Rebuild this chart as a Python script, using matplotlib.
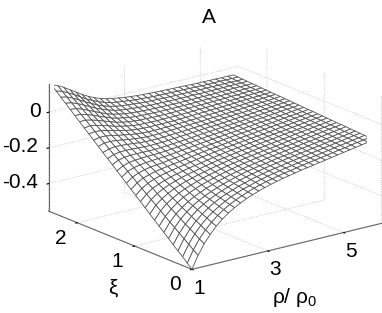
import numpy as np
import matplotlib
matplotlib.use('Agg')
from matplotlib import pyplot as plt

plt.rcParams['font.family'] = ['Liberation Sans', 'DejaVu Sans']
plt.rcParams['mathtext.fontset'] = 'custom'
plt.rcParams['mathtext.rm'] = 'Liberation Sans'
plt.rcParams['mathtext.default'] = 'regular'

rho = [1.0, 1.16, 1.32, 1.48, 1.64, 1.8, 1.96, 2.12, 2.28, 2.44, 2.6, 2.76, 2.92, 3.08, 3.24, 3.4,
       3.56, 3.72, 3.88, 4.04, 4.2, 4.36, 4.52, 4.68, 4.84, 5.0, 5.16, 5.32, 5.48, 5.64, 5.8]
xi = [0.0, 0.082, 0.163, 0.245, 0.327, 0.408, 0.49, 0.572, 0.653, 0.735, 0.817, 0.898, 0.98, 1.062, 1.143, 1.225,
      1.307, 1.388, 1.47, 1.552, 1.633, 1.715, 1.797, 1.878, 1.96, 2.042, 2.123, 2.205, 2.287, 2.368, 2.45]
# one row per rho
z = [
[-.554,-.530,-.506,-.483,-.459,-.435,-.411,-.387,-.364,-.340,-.316,-.292,-.268,-.245,-.221,-.197,-.173,-.149,-.126,-.102,-.078,-.054,-.030,-.007,.017,.041,.065,.089,.112,.136,.160],
[-.484,-.464,-.443,-.423,-.403,-.382,-.362,-.341,-.320,-.299,-.278,-.258,-.237,-.216,-.195,-.174,-.153,-.132,-.111,-.090,-.068,-.047,-.025,-.003,.018,.040,.061,.083,.105,.126,.148],
[-.428,-.411,-.394,-.376,-.360,-.342,-.324,-.307,-.288,-.271,-.253,-.234,-.217,-.198,-.180,-.161,-.142,-.124,-.105,-.086,-.067,-.047,-.028,-.009,.010,.030,.050,.070,.090,.109,.130],
[-.383,-.369,-.354,-.340,-.325,-.310,-.296,-.280,-.265,-.249,-.234,-.219,-.202,-.187,-.170,-.154,-.138,-.121,-.104,-.087,-.070,-.053,-.035,-.018,.000,.018,.035,.054,.072,.091,.109],
[-.345,-.334,-.321,-.309,-.296,-.284,-.272,-.258,-.246,-.232,-.219,-.206,-.191,-.178,-.163,-.149,-.135,-.120,-.105,-.090,-.075,-.060,-.044,-.028,-.012,.004,.020,.037,.053,.070,.087],
[-.314,-.304,-.294,-.284,-.273,-.263,-.252,-.241,-.230,-.218,-.207,-.195,-.183,-.171,-.159,-.146,-.133,-.121,-.107,-.093,-.081,-.066,-.052,-.039,-.024,-.009,.005,.020,.036,.050,.066],
[-.288,-.280,-.272,-.262,-.254,-.245,-.236,-.226,-.217,-.206,-.196,-.186,-.176,-.166,-.155,-.143,-.132,-.121,-.109,-.097,-.085,-.072,-.060,-.047,-.035,-.022,-.009,.006,.019,.033,.047],
[-.266,-.259,-.252,-.244,-.237,-.230,-.222,-.213,-.205,-.196,-.187,-.178,-.169,-.160,-.150,-.141,-.131,-.121,-.110,-.099,-.088,-.077,-.066,-.054,-.043,-.032,-.020,-.007,.005,.018,.031],
[-.248,-.242,-.235,-.229,-.223,-.216,-.209,-.202,-.194,-.186,-.179,-.170,-.163,-.155,-.146,-.137,-.128,-.119,-.109,-.100,-.091,-.080,-.070,-.060,-.049,-.038,-.027,-.017,-.005,.006,.018],
[-.232,-.227,-.221,-.216,-.210,-.204,-.197,-.191,-.184,-.178,-.171,-.164,-.156,-.149,-.141,-.133,-.125,-.117,-.108,-.100,-.091,-.082,-.072,-.063,-.053,-.044,-.034,-.024,-.013,-.003,.008],
[-.218,-.214,-.208,-.203,-.198,-.193,-.187,-.181,-.176,-.169,-.163,-.157,-.149,-.143,-.136,-.129,-.121,-.114,-.106,-.098,-.090,-.082,-.073,-.064,-.056,-.047,-.037,-.028,-.019,-.009,.001],
[-.206,-.201,-.198,-.193,-.188,-.183,-.178,-.173,-.167,-.161,-.156,-.150,-.143,-.137,-.131,-.124,-.117,-.111,-.103,-.096,-.088,-.081,-.073,-.065,-.056,-.049,-.040,-.031,-.022,-.013,-.004],
[-.195,-.191,-.187,-.182,-.178,-.174,-.170,-.165,-.159,-.154,-.149,-.144,-.138,-.132,-.126,-.120,-.114,-.108,-.100,-.094,-.087,-.080,-.073,-.065,-.058,-.050,-.042,-.034,-.025,-.017,-.009],
[-.185,-.181,-.178,-.174,-.170,-.165,-.162,-.157,-.152,-.147,-.143,-.138,-.132,-.127,-.122,-.116,-.110,-.105,-.098,-.092,-.085,-.079,-.072,-.065,-.058,-.051,-.044,-.036,-.028,-.021,-.013],
[-.176,-.173,-.169,-.166,-.162,-.158,-.154,-.150,-.146,-.141,-.137,-.132,-.127,-.123,-.117,-.112,-.107,-.101,-.095,-.090,-.083,-.077,-.072,-.064,-.058,-.052,-.044,-.038,-.031,-.023,-.016],
[-.168,-.165,-.162,-.158,-.155,-.151,-.148,-.144,-.140,-.136,-.131,-.127,-.122,-.118,-.113,-.108,-.103,-.098,-.092,-.087,-.081,-.076,-.070,-.064,-.058,-.051,-.045,-.038,-.032,-.025,-.018],
[-.161,-.158,-.155,-.152,-.148,-.146,-.142,-.138,-.134,-.131,-.126,-.122,-.118,-.114,-.109,-.105,-.100,-.095,-.089,-.085,-.079,-.074,-.069,-.063,-.057,-.052,-.045,-.039,-.032,-.027,-.020],
[-.154,-.152,-.148,-.146,-.142,-.139,-.136,-.132,-.129,-.125,-.122,-.118,-.113,-.110,-.105,-.101,-.097,-.092,-.087,-.082,-.078,-.073,-.067,-.062,-.056,-.051,-.046,-.040,-.034,-.028,-.022],
[-.147,-.145,-.142,-.139,-.136,-.133,-.130,-.127,-.123,-.120,-.117,-.113,-.109,-.105,-.101,-.097,-.093,-.089,-.085,-.080,-.075,-.070,-.065,-.061,-.056,-.051,-.046,-.040,-.034,-.029,-.023],
[-.141,-.138,-.136,-.133,-.130,-.128,-.125,-.122,-.119,-.115,-.112,-.108,-.105,-.101,-.097,-.094,-.090,-.086,-.082,-.077,-.073,-.068,-.064,-.059,-.054,-.050,-.045,-.040,-.035,-.029,-.024],
[-.135,-.132,-.130,-.128,-.125,-.123,-.119,-.116,-.114,-.110,-.107,-.104,-.101,-.097,-.094,-.090,-.086,-.083,-.079,-.074,-.071,-.066,-.062,-.058,-.053,-.049,-.045,-.040,-.034,-.030,-.025],
[-.129,-.127,-.124,-.122,-.119,-.117,-.114,-.111,-.109,-.106,-.103,-.099,-.097,-.093,-.090,-.087,-.083,-.080,-.076,-.072,-.068,-.065,-.061,-.056,-.053,-.048,-.044,-.039,-.035,-.030,-.026],
[-.123,-.121,-.119,-.116,-.114,-.111,-.109,-.107,-.103,-.101,-.098,-.095,-.093,-.089,-.086,-.083,-.080,-.077,-.073,-.069,-.066,-.063,-.059,-.055,-.051,-.047,-.044,-.040,-.035,-.031,-.027],
[-.117,-.115,-.113,-.111,-.108,-.106,-.103,-.101,-.098,-.096,-.093,-.091,-.088,-.085,-.082,-.079,-.076,-.073,-.071,-.068,-.064,-.061,-.057,-.054,-.050,-.047,-.043,-.040,-.036,-.032,-.028],
[-.111,-.109,-.107,-.105,-.103,-.100,-.099,-.096,-.094,-.091,-.089,-.087,-.084,-.081,-.079,-.076,-.073,-.071,-.068,-.065,-.061,-.059,-.056,-.052,-.049,-.046,-.043,-.039,-.035,-.033,-.029],
[-.105,-.103,-.101,-.099,-.097,-.095,-.093,-.091,-.089,-.086,-.084,-.082,-.080,-.077,-.075,-.072,-.069,-.067,-.064,-.062,-.058,-.056,-.053,-.051,-.047,-.045,-.041,-.039,-.035,-.033,-.029],
[-.099,-.098,-.095,-.093,-.092,-.090,-.088,-.086,-.084,-.081,-.080,-.078,-.075,-.073,-.071,-.069,-.066,-.064,-.062,-.059,-.057,-.054,-.051,-.049,-.047,-.044,-.041,-.038,-.036,-.033,-.030],
[-.093,-.091,-.090,-.088,-.086,-.085,-.082,-.080,-.078,-.077,-.075,-.073,-.071,-.069,-.067,-.065,-.062,-.060,-.058,-.056,-.054,-.052,-.049,-.047,-.045,-.043,-.039,-.037,-.035,-.032,-.030],
[-.087,-.085,-.083,-.082,-.081,-.079,-.077,-.075,-.074,-.072,-.070,-.068,-.067,-.065,-.063,-.061,-.059,-.057,-.055,-.053,-.052,-.050,-.048,-.045,-.043,-.041,-.039,-.037,-.035,-.033,-.031],
[-.081,-.079,-.078,-.076,-.075,-.074,-.072,-.070,-.069,-.067,-.065,-.064,-.062,-.060,-.059,-.057,-.056,-.054,-.052,-.051,-.049,-.047,-.046,-.044,-.042,-.041,-.039,-.037,-.036,-.033,-.031],
[-.075,-.074,-.072,-.071,-.069,-.068,-.066,-.065,-.064,-.062,-.061,-.059,-.058,-.056,-.055,-.054,-.052,-.051,-.049,-.048,-.046,-.045,-.044,-.042,-.041,-.039,-.038,-.036,-.035,-.033,-.032],
]

X, Y = np.meshgrid(rho, xi, indexing='ij')
Z = np.array(z)

fig = plt.figure(figsize=(3.82, 3.13), dpi=100)
ax = fig.add_axes([0.052, -0.004, 1, 1], projection='3d', proj_type='ortho')
ax.view_init(elev=18.3, azim=-127.7)
ax.set_box_aspect((234, 229, 131), zoom=1.12)
ax.plot_surface(X, Y, Z, rstride=1, cstride=1, color='white', edgecolor='#555555', linewidth=0.6, shade=False, antialiased=True)
ax.set_xlim(1, 6)
ax.set_ylim(0, 2.5)
ax.set_zlim(-0.554, 0.16)
ax.set_xticks([1, 3, 5])
ax.set_yticks([0, 1, 2])
ax.set_zticks([-0.4, -0.2, 0])
ax.set_zticklabels(['-0.4', '-0.2', '0'])
ax.tick_params(labelsize=15, pad=2)
ax.tick_params(axis='x', pad=-2)
ax.tick_params(axis='y', pad=2.5)
for a in (ax.xaxis, ax.yaxis, ax.zaxis):
    a.set_pane_color((1, 1, 1, 0))
    a.pane.set_edgecolor((1, 1, 1, 0))
    a.line.set_color('#666666')
    a.line.set_linewidth(0.8)
    a._axinfo['grid'].update(color='#bbbbbb', linewidth=0.6, linestyle=':')
    a._axinfo['tick'].update(inward_factor=0.1, outward_factor=0)
    a._axinfo['tick']['color'] = '#666666'
for a in (ax.yaxis, ax.zaxis):
    for lab in a.get_ticklabels():
        lab.set_va('center')
zt = ax.zaxis.get_major_ticks()
zt[0].set_pad(2)
zt[1].set_pad(2)
zt[2].set_pad(-3.3)
fig.text(0.548, 0.943, 'A', fontsize=15, ha='center', va='center')
fig.text(0.296, 0.08, 'ξ', fontsize=15, ha='center', va='center')
fig.text(0.77, 0.05, 'ρ/ ρ$_{0}$', fontsize=15, ha='center', va='center')
fig.savefig('out.png', dpi=100)
